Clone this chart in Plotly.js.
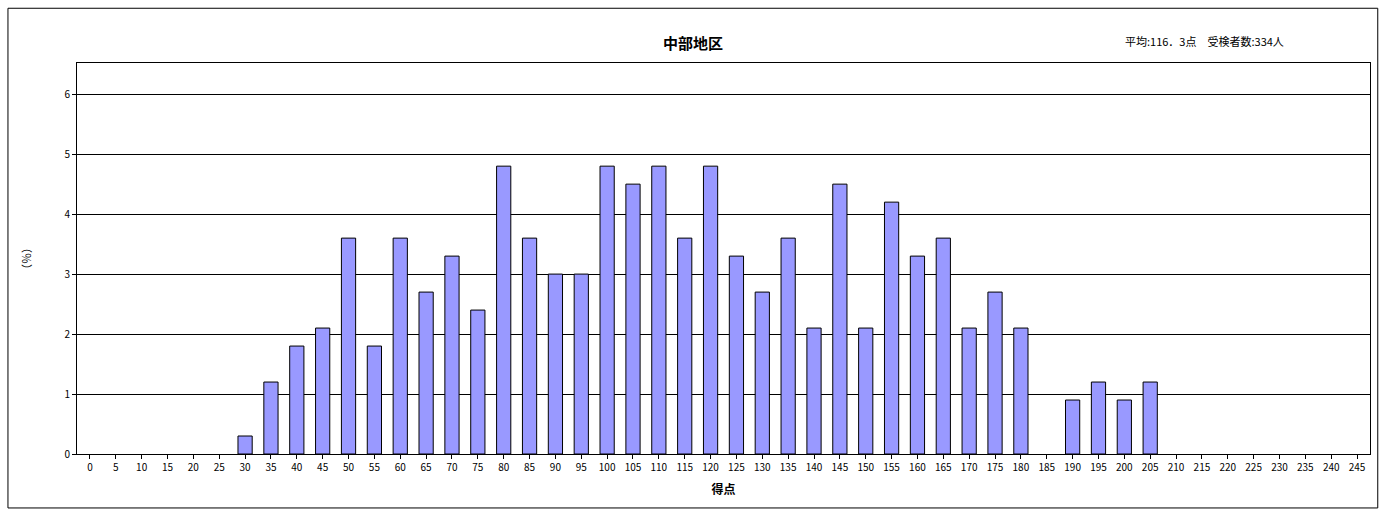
<!DOCTYPE html>
<html>
<head>
<meta charset="utf-8">
<script src="https://cdn.plot.ly/plotly-3.0.1.min.js"></script>
<style>
  html, body { margin: 0; padding: 0; background: #fff; }
  #chart { width: 1386px; height: 511px; }
</style>
</head>
<body>
<div id="chart"></div>
<script>
// score bins (points) and share of examinees (%)
const scores = [];
for (let s = 0; s <= 245; s += 5) scores.push(String(s));
const percents = [
  0, 0, 0, 0, 0, 0, 0.3, 1.2, 1.8, 2.1,
  3.6, 1.8, 3.6, 2.7, 3.3, 2.4, 4.8, 3.6, 3.0, 3.0,
  4.8, 4.5, 4.8, 3.6, 4.8, 3.3, 2.7, 3.6, 2.1, 4.5,
  2.1, 4.2, 3.3, 3.6, 2.1, 2.7, 2.1, 0, 0.9, 1.2,
  0.9, 1.2, 0, 0, 0, 0, 0, 0, 0, 0
];
const yTicks = [0, 1, 2, 3, 4, 5, 6];

const font = '"Noto Sans CJK JP", "Noto Sans", sans-serif';

Plotly.newPlot('chart', [{
  type: 'bar',
  x: scores,
  y: percents,
  marker: {
    color: '#9999ff',
    line: { color: '#000', width: percents.map(v => v > 0 ? 1 : 0) }
  },
  hoverinfo: 'x+y'
}], {
  width: 1386,
  height: 511,
  margin: { l: 77, r: 16, t: 63, b: 57 },
  paper_bgcolor: '#fff',
  plot_bgcolor: '#fff',
  font: { family: font, size: 10, color: '#000' },
  bargap: 0.45,
  showlegend: false,
  title: { text: '<b>中部地区</b>', x: 0.5, xanchor: 'center', y: 0.925, font: { size: 15, color: '#000' } },
  xaxis: {
    type: 'category',
    showline: true, linecolor: '#000', mirror: true,
    ticks: 'outside', ticklen: 4, tickcolor: '#000',
    tickangle: 0,
    tickfont: { size: 10 },
    title: { text: '<b>得点</b>', font: { size: 12 }, standoff: 12 }
  },
  yaxis: {
    range: [0, 6.52],
    tickvals: yTicks,
    showline: true, linecolor: '#000', mirror: true,
    showgrid: true, gridcolor: '#000', gridwidth: 1,
    ticks: 'outside', ticklen: 4, tickcolor: '#000',
    zeroline: false,
    tickfont: { size: 10 },
    title: { text: '（％）', font: { size: 11 }, standoff: 30 }
  },
  shapes: [{
    type: 'rect', xref: 'paper', yref: 'paper',
    x0: -0.0534, x1: 1.006, y0: -0.138, y1: 1.14,
    line: { color: '#000', width: 1 }
  }],
  annotations: [{
    text: '平均:116．3点　受検者数:334人',
    xref: 'paper', yref: 'paper', x: 0.872, y: 1.03,
    xanchor: 'center', yanchor: 'bottom', showarrow: false,
    font: { size: 11 }
  }]
}, { displayModeBar: false });
</script>
</body>
</html>
